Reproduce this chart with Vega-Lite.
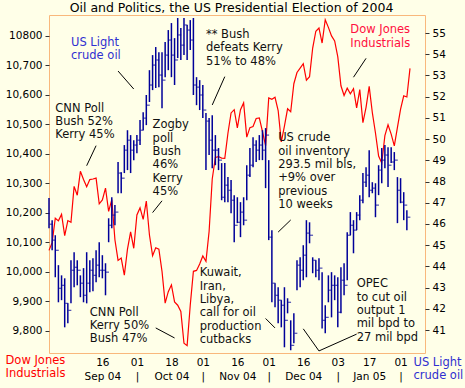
{
"$schema": "https://vega.github.io/schema/vega-lite/v6.json",
"width": 376, "height": 338,
"autosize": {"type": "none"},
"padding": {"left": 49, "top": 15, "right": 40, "bottom": 35},
"background": "#FFFFE8",
"config": {"view": {"stroke": "#F9B87C", "strokeWidth": 1, "fill": "#FFFFE8"}, "font": "DejaVu Sans"},
"datasets": {
"dow": [
{"d":"2004-08-23","dow":10073},{"d":"2004-08-24","dow":10099},{"d":"2004-08-25","dow":10182},{"d":"2004-08-26","dow":10173},{"d":"2004-08-27","dow":10195},
{"d":"2004-08-30","dow":10123},{"d":"2004-08-31","dow":10174},{"d":"2004-09-01","dow":10168},{"d":"2004-09-02","dow":10290},{"d":"2004-09-03","dow":10260},
{"d":"2004-09-07","dow":10341},{"d":"2004-09-08","dow":10313},{"d":"2004-09-09","dow":10289},{"d":"2004-09-10","dow":10313},
{"d":"2004-09-13","dow":10315},{"d":"2004-09-14","dow":10318},{"d":"2004-09-15","dow":10231},{"d":"2004-09-16","dow":10244},{"d":"2004-09-17","dow":10284},
{"d":"2004-09-20","dow":10205},{"d":"2004-09-21","dow":10245},{"d":"2004-09-22","dow":10109},{"d":"2004-09-23","dow":10039},{"d":"2004-09-24","dow":10047},
{"d":"2004-09-27","dow":9989},{"d":"2004-09-28","dow":10077},{"d":"2004-09-29","dow":10136},{"d":"2004-09-30","dow":10080},{"d":"2004-10-01","dow":10193},
{"d":"2004-10-04","dow":10217},{"d":"2004-10-05","dow":10178},{"d":"2004-10-06","dow":10240},{"d":"2004-10-07","dow":10125},{"d":"2004-10-08","dow":10055},
{"d":"2004-10-11","dow":10082},{"d":"2004-10-12","dow":10077},{"d":"2004-10-13","dow":10002},{"d":"2004-10-14","dow":9894},{"d":"2004-10-15","dow":9933},
{"d":"2004-10-18","dow":9956},{"d":"2004-10-19","dow":9898},{"d":"2004-10-20","dow":9887},{"d":"2004-10-21","dow":9866},{"d":"2004-10-22","dow":9758},
{"d":"2004-10-25","dow":9750},{"d":"2004-10-26","dow":9888},{"d":"2004-10-27","dow":10002},{"d":"2004-10-28","dow":10005},{"d":"2004-10-29","dow":10027},
{"d":"2004-11-01","dow":10054},{"d":"2004-11-02","dow":10036},{"d":"2004-11-03","dow":10137},{"d":"2004-11-04","dow":10315},{"d":"2004-11-05","dow":10388},
{"d":"2004-11-08","dow":10391},{"d":"2004-11-09","dow":10386},{"d":"2004-11-10","dow":10385},{"d":"2004-11-11","dow":10470},{"d":"2004-11-12","dow":10539},
{"d":"2004-11-15","dow":10550},{"d":"2004-11-16","dow":10488},{"d":"2004-11-17","dow":10550},{"d":"2004-11-18","dow":10573},{"d":"2004-11-19","dow":10457},
{"d":"2004-11-22","dow":10489},{"d":"2004-11-23","dow":10493},{"d":"2004-11-24","dow":10520},{"d":"2004-11-26","dow":10522},
{"d":"2004-11-29","dow":10476},{"d":"2004-11-30","dow":10428},{"d":"2004-12-01","dow":10590},{"d":"2004-12-02","dow":10585},{"d":"2004-12-03","dow":10592},
{"d":"2004-12-06","dow":10547},{"d":"2004-12-07","dow":10441},{"d":"2004-12-08","dow":10494},{"d":"2004-12-09","dow":10553},{"d":"2004-12-10","dow":10543},
{"d":"2004-12-13","dow":10638},{"d":"2004-12-14","dow":10676},{"d":"2004-12-15","dow":10691},{"d":"2004-12-16","dow":10706},{"d":"2004-12-17","dow":10650},
{"d":"2004-12-20","dow":10662},{"d":"2004-12-21","dow":10759},{"d":"2004-12-22","dow":10816},{"d":"2004-12-23","dow":10827},
{"d":"2004-12-27","dow":10776},{"d":"2004-12-28","dow":10855},{"d":"2004-12-29","dow":10829},{"d":"2004-12-30","dow":10800},{"d":"2004-12-31","dow":10783},
{"d":"2005-01-03","dow":10729},{"d":"2005-01-04","dow":10631},{"d":"2005-01-05","dow":10598},{"d":"2005-01-06","dow":10623},{"d":"2005-01-07","dow":10604},
{"d":"2005-01-10","dow":10621},{"d":"2005-01-11","dow":10556},{"d":"2005-01-12","dow":10618},{"d":"2005-01-13","dow":10506},{"d":"2005-01-14","dow":10558},
{"d":"2005-01-18","dow":10629},{"d":"2005-01-19","dow":10540},{"d":"2005-01-20","dow":10471},{"d":"2005-01-21","dow":10393},
{"d":"2005-01-24","dow":10369},{"d":"2005-01-25","dow":10462},{"d":"2005-01-26","dow":10499},{"d":"2005-01-27","dow":10467},{"d":"2005-01-28","dow":10427},
{"d":"2005-01-31","dow":10490},{"d":"2005-02-01","dow":10552},{"d":"2005-02-02","dow":10597},{"d":"2005-02-03","dow":10593},{"d":"2005-02-04","dow":10690}
],
"oil": [
{"d":"2004-08-23","high":47.22,"low":45.80,"close":45.99},{"d":"2004-08-24","high":46.18,"low":44.76,"close":45.24},{"d":"2004-08-25","high":45.47,"low":43.49,"close":44.76},
{"d":"2004-08-26","high":44.06,"low":42.31,"close":42.97},{"d":"2004-08-27","high":43.58,"low":42.41,"close":43.11},{"d":"2004-08-30","high":43.44,"low":41.13,"close":42.26},
{"d":"2004-08-31","high":42.26,"low":41.32,"close":41.93},{"d":"2004-09-01","high":44.29,"low":42.26,"close":43.82},{"d":"2004-09-02","high":44.67,"low":43.02,"close":43.96},
{"d":"2004-09-03","high":44.29,"low":43.11,"close":43.82},{"d":"2004-09-07","high":43.58,"low":42.55,"close":43.21},{"d":"2004-09-08","high":43.92,"low":42.31,"close":42.64},
{"d":"2004-09-09","high":44.67,"low":42.26,"close":43.21},{"d":"2004-09-10","high":44.29,"low":42.78,"close":43.82},{"d":"2004-09-13","high":44.39,"low":42.83,"close":43.58},
{"d":"2004-09-14","high":44.76,"low":43.25,"close":44.06},{"d":"2004-09-15","high":45.14,"low":43.49,"close":43.82},{"d":"2004-09-16","high":44.53,"low":43.44,"close":43.82},
{"d":"2004-09-17","high":44.15,"low":42.64,"close":43.73},{"d":"2004-09-20","high":46.27,"low":45.14,"close":45.94},{"d":"2004-09-21","high":47.26,"low":45.80,"close":46.42},
{"d":"2004-09-22","high":46.89,"low":45.94,"close":46.56},{"d":"2004-09-23","high":48.92,"low":47.45,"close":48.40},{"d":"2004-09-24","high":48.44,"low":47.45,"close":48.16},
{"d":"2004-09-27","high":49.72,"low":48.40,"close":49.48},{"d":"2004-09-28","high":50.42,"low":48.54,"close":49.95},{"d":"2004-09-29","high":50.19,"low":48.40,"close":49.48},
{"d":"2004-09-30","high":49.95,"low":49.01,"close":49.72},{"d":"2004-10-01","high":50.19,"low":49.34,"close":49.95},{"d":"2004-10-04","high":50.90,"low":49.72,"close":50.42},
{"d":"2004-10-05","high":51.27,"low":50.42,"close":50.99},{"d":"2004-10-06","high":52.08,"low":50.66,"close":51.60},{"d":"2004-10-07","high":53.25,"low":51.75,"close":52.55},
{"d":"2004-10-08","high":53.96,"low":52.31,"close":53.49},{"d":"2004-10-11","high":54.34,"low":52.41,"close":53.73},{"d":"2004-10-12","high":54.10,"low":52.45,"close":53.02},
{"d":"2004-10-13","high":54.10,"low":51.46,"close":52.78},{"d":"2004-10-14","high":54.58,"low":52.92,"close":53.96},{"d":"2004-10-15","high":55.14,"low":53.25,"close":54.67},
{"d":"2004-10-18","high":55.47,"low":52.92,"close":53.96},{"d":"2004-10-19","high":54.76,"low":52.55,"close":53.73},{"d":"2004-10-20","high":55.71,"low":53.82,"close":54.91},
{"d":"2004-10-21","high":55.24,"low":53.73,"close":54.43},{"d":"2004-10-22","high":55.71,"low":53.96,"close":55.38},{"d":"2004-10-25","high":55.38,"low":53.73,"close":55.14},
{"d":"2004-10-26","high":55.61,"low":54.20,"close":54.67},{"d":"2004-10-27","high":55.71,"low":52.08,"close":52.55},{"d":"2004-10-28","high":52.92,"low":51.60,"close":52.45},
{"d":"2004-10-29","high":52.78,"low":51.37,"close":52.08},{"d":"2004-11-01","high":52.55,"low":50.99,"close":51.37},{"d":"2004-11-02","high":51.23,"low":48.54,"close":50.85},
{"d":"2004-11-03","high":50.99,"low":49.25,"close":49.95},{"d":"2004-11-04","high":51.13,"low":48.63,"close":49.48},{"d":"2004-11-05","high":50.19,"low":48.77,"close":49.48},
{"d":"2004-11-08","high":49.58,"low":48.54,"close":49.01},{"d":"2004-11-09","high":48.87,"low":47.12,"close":47.26},{"d":"2004-11-10","high":48.87,"low":47.03,"close":47.83},
{"d":"2004-11-11","high":48.21,"low":47.03,"close":47.59},{"d":"2004-11-12","high":48.07,"low":46.51,"close":47.12},{"d":"2004-11-15","high":47.36,"low":45.14,"close":45.94},
{"d":"2004-11-16","high":47.26,"low":46.04,"close":46.08},{"d":"2004-11-17","high":47.03,"low":45.38,"close":46.56},{"d":"2004-11-18","high":47.26,"low":45.94,"close":46.18},
{"d":"2004-11-19","high":48.77,"low":47.12,"close":48.30},{"d":"2004-11-22","high":49.58,"low":48.21,"close":48.77},{"d":"2004-11-23","high":50.09,"low":48.68,"close":49.72},
{"d":"2004-11-24","high":49.95,"low":48.92,"close":49.48},{"d":"2004-11-26","high":50.19,"low":49.01,"close":49.72},{"d":"2004-11-29","high":50.42,"low":49.01,"close":49.48},
{"d":"2004-11-30","high":50.52,"low":47.69,"close":50.19},{"d":"2004-12-01","high":49.01,"low":45.24,"close":45.38},{"d":"2004-12-02","high":45.71,"low":42.31,"close":43.21},
{"d":"2004-12-03","high":43.21,"low":42.08,"close":42.64},{"d":"2004-12-06","high":43.02,"low":41.32,"close":42.41},{"d":"2004-12-07","high":42.41,"low":41.13,"close":42.17},
{"d":"2004-12-08","high":43.02,"low":40.19,"close":41.46},{"d":"2004-12-09","high":42.50,"low":41.79,"close":42.31},{"d":"2004-12-10","high":41.46,"low":40.05,"close":40.28},
{"d":"2004-12-13","high":41.79,"low":40.38,"close":40.85},{"d":"2004-12-14","high":44.29,"low":42.88,"close":44.06},{"d":"2004-12-15","high":44.43,"low":43.02,"close":43.82},
{"d":"2004-12-16","high":45.00,"low":43.35,"close":44.53},{"d":"2004-12-17","high":46.18,"low":43.49,"close":45.57},{"d":"2004-12-20","high":46.08,"low":45.09,"close":45.47},
{"d":"2004-12-21","high":44.43,"low":43.68,"close":44.29},{"d":"2004-12-22","high":44.29,"low":43.49,"close":43.82},{"d":"2004-12-23","high":44.39,"low":43.35,"close":43.92},
{"d":"2004-12-27","high":43.73,"low":41.08,"close":41.46},{"d":"2004-12-28","high":42.17,"low":40.85,"close":41.60},{"d":"2004-12-29","high":43.58,"low":42.31,"close":42.88},
{"d":"2004-12-30","high":43.73,"low":41.60,"close":43.11},{"d":"2004-12-31","high":43.58,"low":42.41,"close":43.11},{"d":"2005-01-03","high":43.49,"low":41.13,"close":41.84},
{"d":"2005-01-04","high":43.96,"low":41.79,"close":43.35},{"d":"2005-01-05","high":44.15,"low":42.64,"close":43.11},{"d":"2005-01-06","high":45.61,"low":43.35,"close":45.47},
{"d":"2005-01-07","high":46.56,"low":45.47,"close":45.94},{"d":"2005-01-10","high":46.18,"low":44.62,"close":45.71},{"d":"2005-01-11","high":46.56,"low":45.71,"close":46.42},
{"d":"2005-01-12","high":47.36,"low":46.18,"close":47.12},{"d":"2005-01-13","high":48.40,"low":46.98,"close":47.97},{"d":"2005-01-14","high":48.68,"low":47.74,"close":48.30},
{"d":"2005-01-18","high":49.48,"low":47.26,"close":47.59},{"d":"2005-01-19","high":47.97,"low":47.45,"close":47.69},{"d":"2005-01-20","high":47.92,"low":46.32,"close":46.89},
{"d":"2005-01-21","high":48.77,"low":47.36,"close":48.54},{"d":"2005-01-24","high":49.58,"low":47.92,"close":49.01},{"d":"2005-01-25","high":49.72,"low":48.63,"close":49.25},
{"d":"2005-01-26","high":49.62,"low":47.74,"close":48.77},{"d":"2005-01-27","high":49.62,"low":48.87,"close":48.92},{"d":"2005-01-28","high":49.39,"low":48.54,"close":49.01},
{"d":"2005-01-31","high":48.21,"low":46.04,"close":47.59},{"d":"2005-02-01","high":48.16,"low":46.98,"close":47.03},{"d":"2005-02-02","high":47.50,"low":46.18,"close":46.89},
{"d":"2005-02-03","high":46.65,"low":45.71,"close":46.32}
],
"notes": [
{"d":"2004-09-01","v":10797,"kind":"oil","label":"US Light\ncrude oil"},
{"d":"2004-11-02","v":10823,"kind":"event","label":"** Bush\ndefeats Kerry\n51% to 48%"},
{"d":"2005-01-07","v":10839,"kind":"dow","label":"Dow Jones\nIndustrials"},
{"d":"2004-08-25","v":10574,"kind":"event","label":"CNN Poll\nBush 52%\nKerry 45%"},
{"d":"2004-10-08","v":10517,"kind":"event","label":"Zogby\npoll\nBush\n46%\nKerry\n45%"},
{"d":"2004-12-06","v":10473,"kind":"event","label":"US crude\noil inventory\n293.5 mil bls,\n+9% over\nprevious\n10 weeks"},
{"d":"2004-10-29","v":10015,"kind":"event","label":"Kuwait,\nIran,\nLibya,\ncall for oil\nproduction\ncutbacks"},
{"d":"2004-09-10","v":9882,"kind":"event","label":"CNN Poll\nKerry 50%\nBush 47%"},
{"d":"2005-01-11","v":9978,"kind":"event","label":"OPEC\nto cut oil\noutput 1\nmil bpd to\n27 mil bpd"}
],
"pointers": [
{"d":"2004-09-23","v":10681,"d2":"2004-09-30","v2":10620},
{"d":"2004-11-10","v":10662,"d2":"2004-11-04","v2":10566},
{"d":"2005-01-14","v":10724,"d2":"2005-01-10","v2":10660},
{"d":"2004-09-14","v":10428,"d2":"2004-09-09","v2":10360},
{"d":"2004-10-13","v":10241,"d2":"2004-10-08","v2":10201},
{"d":"2004-12-10","v":10176,"d2":"2004-12-06","v2":10135},
{"d":"2004-11-30","v":9842,"d2":"2004-12-03","v2":9810},
{"d":"2004-10-11","v":9810,"d2":"2004-10-19","v2":9776},
{"d":"2004-12-16","v":9807,"d2":"2004-12-23","v2":9732},
{"d":"2004-12-23","v":9732,"d2":"2005-01-11","v2":9789}
]
},
"encoding": {
"x": {"field": "d", "type": "ordinal", "sort": "ascending",
 "scale": {"type": "point", "padding": 0, "range": [0, 361]},
 "axis": {"values": ["2004-09-16","2004-10-01","2004-10-18","2004-11-01","2004-11-16","2004-12-01","2004-12-16","2005-01-03","2005-01-18","2005-02-01"],
  "labelExpr": "datum.value == '2005-01-18' ? ['17', 'Jan 05'] : (slice(datum.value, 8) < '10' ? [slice(datum.value, 8), '|'] : [slice(datum.value, 8), utcFormat(toDate(datum.value), '%b %y')])",
  "ticks": false, "domain": false, "grid": false, "labelAngle": 0, "labelPadding": 4, "labelFontSize": 10.5, "labelLineHeight": 14, "labelColor": "#000000", "labelFont": "DejaVu Sans",
  "title": "Oil and Politics, the US Presidential Election of 2004", "titleX": 182, "titleY": -342, "titleAlign": "center", "titleBaseline": "alphabetic", "titleAngle": 0,
  "titleFont": "DejaVu Sans", "titleFontSize": 12.5, "titleFontWeight": "normal", "titleColor": "#000000"}}
},
"layer": [
 {"data": {"name": "dow"}, "mark": {"type": "line", "color": "#FF0000", "strokeWidth": 1.2},
  "encoding": {"y": {"field": "dow", "type": "quantitative", "scale": {"domain": [9725, 10871], "nice": false, "zero": false},
   "axis": {"orient": "left", "values": [9800,9900,10000,10100,10200,10300,10400,10500,10600,10700,10800],
    "labelExpr": "datum.value == 10800 ? '10800' : format(datum.value, ',')",
    "grid": false, "domain": false, "tickSize": 4, "tickColor": "#333333", "labelPadding": 3, "labelFontSize": 10.5, "labelColor": "#000000", "labelFont": "DejaVu Sans",
    "title": ["Dow Jones", "Industrials"], "titleAngle": 0, "titleAlign": "left", "titleBaseline": "top", "titleX": -44, "titleY": 339,
    "titleColor": "#FF0000", "titleFontSize": 11.5, "titleFontWeight": "normal", "titleLineHeight": 13.3, "titleFont": "DejaVu Sans"}}}},
 {"data": {"name": "oil"}, "mark": {"type": "rule", "color": "#000099", "strokeWidth": 1.5},
  "encoding": {"y": {"field": "high", "type": "quantitative", "scale": {"domain": [39.92, 55.85], "nice": false, "zero": false},
   "axis": {"orient": "right", "values": [41,42,43,44,45,46,47,48,49,50,51,52,53,54,55],
    "grid": false, "domain": false, "tickSize": 4, "tickColor": "#333333", "labelPadding": 3, "labelFontSize": 10.5, "labelColor": "#000000", "labelFont": "DejaVu Sans",
    "title": ["US Light", "crude oil"], "titleAngle": 0, "titleAlign": "left", "titleBaseline": "top", "titleX": -12, "titleY": 341.5,
    "titleColor": "#3030D0", "titleFontSize": 11.5, "titleFontWeight": "normal", "titleLineHeight": 13.3, "titleFont": "DejaVu Sans"}},
   "y2": {"field": "low"}}},
 {"data": {"name": "oil"}, "mark": {"type": "tick", "color": "#000099", "size": 3, "thickness": 1.2, "xOffset": 2, "orient": "horizontal"},
  "encoding": {"y": {"field": "close", "type": "quantitative", "scale": {"domain": [39.92, 55.85], "nice": false, "zero": false}, "axis": null}}},
 {"data": {"name": "pointers"}, "mark": {"type": "rule", "color": "#000000", "strokeWidth": 1},
  "encoding": {"y": {"field": "v", "type": "quantitative", "scale": {"domain": [9725, 10871], "nice": false, "zero": false}, "axis": null},
   "x2": {"field": "d2"}, "y2": {"field": "v2"}}},
 {"data": {"name": "notes"}, "mark": {"type": "text", "align": "left", "baseline": "top", "fontSize": 11.5, "lineHeight": 13.3, "lineBreak": "\n", "font": "DejaVu Sans"},
  "encoding": {"y": {"field": "v", "type": "quantitative", "scale": {"domain": [9725, 10871], "nice": false, "zero": false}, "axis": null},
   "text": {"field": "label"},
   "color": {"field": "kind", "type": "nominal", "scale": {"domain": ["event", "oil", "dow"], "range": ["#111111", "#3030D0", "#FF1040"]}, "legend": null}}}
],
"resolve": {"scale": {"y": "independent"}}
}
